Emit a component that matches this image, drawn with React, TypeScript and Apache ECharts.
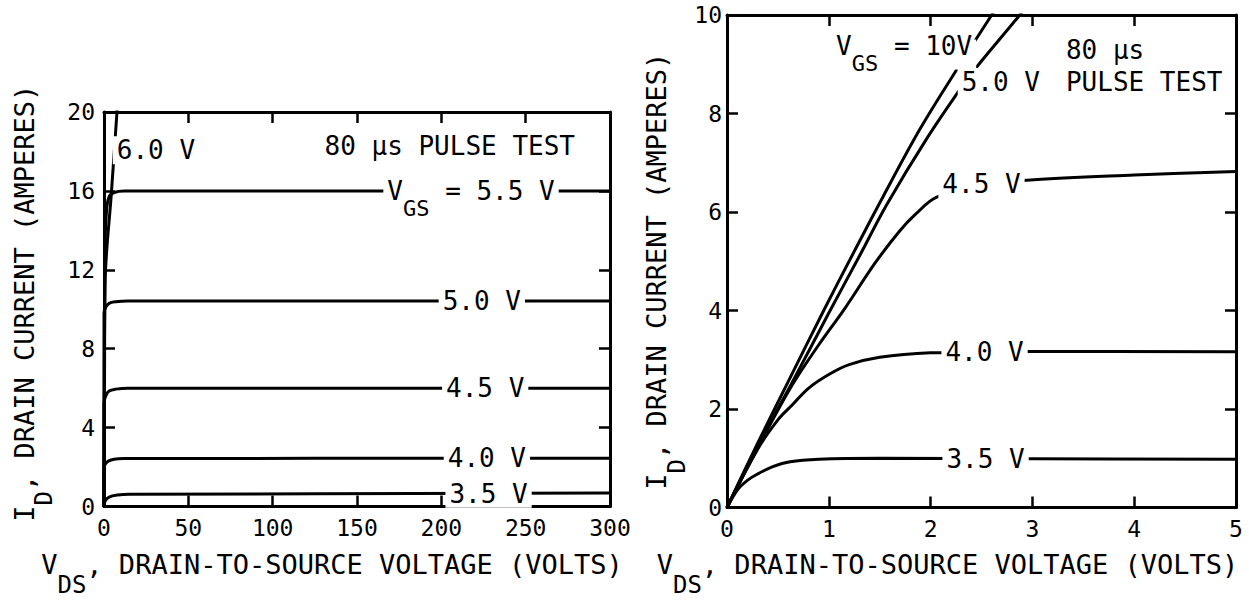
import React, { useEffect, useRef } from "react";
import * as echarts from "echarts";

const FONT = "'DejaVu Sans Mono', 'Liberation Mono', monospace";

// ---------- Left chart: 0–300 V ----------
const leftXMax = 300;
const leftXStep = 50;
const leftYMax = 20;
const leftYStep = 4;

const leftVgs35 = [[0, 0], [0.8, 0.3], [3, 0.48], [8, 0.58], [15, 0.62], [300, 0.68]];
const leftVgs40 = [[0, 0], [0, 1.95], [0.8, 2.15], [2.5, 2.3], [6, 2.4], [12, 2.43], [300, 2.45]];
const leftVgs45 = [[0, 0], [0, 5.25], [1, 5.6], [3, 5.85], [7, 5.95], [14, 6.0], [300, 6.0]];
const leftVgs50 = [[0, 0], [0, 9.8], [1, 10.1], [3, 10.3], [7, 10.38], [14, 10.42], [300, 10.42]];
const leftVgs55 = [[0, 0], [0.6, 13], [1.5, 15.0], [3, 15.7], [6, 15.92], [12, 16.0], [300, 16.0]];
const leftVgs60 = [[0, 0], [0.3, 6], [0.6, 11.2], [4.47, 16], [7.7, 20], [8.1, 20.5]];

const leftNoteText = ["6.0 V", "80 μs PULSE TEST", "{m|V}{s|GS}{m| = 5.5 V}", "5.0 V", "4.5 V", "4.0 V", "3.5 V"];
const leftNoteAt = [[30.8, 18.06], [205, 18.26], [217.6, 16.0], [224, 10.42], [226, 6.0], [227, 2.44], [228, 0.65]];

// ---------- Right chart: 0–5 V ----------
const rightXMax = 5;
const rightXStep = 1;
const rightYMax = 10;
const rightYStep = 2;

const rightVgs35 = [[0, 0], [0.1, 0.35], [0.2, 0.55], [0.3, 0.68], [0.45, 0.83], [0.62, 0.93], [0.9, 0.98], [1.5, 1.0], [3, 0.99], [5, 0.98]];
const rightVgs40 = [[0, 0], [0.3, 1.18], [0.5, 1.78], [0.64, 2.08], [0.8, 2.42], [1.0, 2.7], [1.2, 2.9], [1.5, 3.05], [2.0, 3.14], [3, 3.17], [5, 3.16]];
const rightVgs45 = [[0, 0], [0.3, 1.2], [0.63, 2.45], [0.9, 3.3], [1.16, 4.05], [1.45, 4.95], [1.69, 5.6], [1.85, 5.95], [2.06, 6.3], [2.5, 6.52], [2.98, 6.65], [4, 6.75], [5, 6.82]];
const rightVgs50 = [[0, 0], [0.3, 1.25], [0.63, 2.5], [1.0, 3.95], [1.3, 5.1], [1.57, 6.15], [1.95, 7.45], [2.34, 8.64], [2.49, 9.04], [2.86, 9.96], [2.95, 10.2]];
const rightVgs100 = [[0, 0], [0.3, 1.3], [0.6, 2.55], [0.95, 4.0], [1.25, 5.2], [1.53, 6.3], [1.9, 7.7], [2.29, 9.0], [2.6, 10], [2.7, 10.3]];

const rightNoteText = ["{m|V}{s|GS}{m| = 10V}", "5.0 V", "80 μs", "PULSE TEST", "4.5 V", "4.0 V", "3.5 V"];
const rightNoteAt = [[1.74, 9.38], [2.69, 8.64], [3.29, 9.28], [3.29, 8.64], [2.5, 6.56], [2.53, 3.16], [2.54, 0.98]];
const rightNoteAlign = ["center", "center", "left", "left", "center", "center", "center"];

const xTitle = "{m|V}{s|DS}{m|, DRAIN-TO-SOURCE VOLTAGE (VOLTS)}";
const yTitle = "{m|I}{s|D}{m|, DRAIN CURRENT (AMPERES)}";

const Q = 18;
const rich = {
  m: { fontFamily: FONT, fontSize: 26, lineHeight: 30, color: "#000", padding: [0, 0, Q, 0] },
  s: { fontFamily: FONT, fontSize: 22, lineHeight: 24, color: "#000", padding: [Q, 0, 0, 0] },
};
const richTitle = {
  m: { fontFamily: FONT, fontSize: 27, lineHeight: 30, color: "#000", padding: [0, 0, 20, 0] },
  s: { fontFamily: FONT, fontSize: 24, lineHeight: 26, color: "#000", padding: [20, 0, 0, 0] },
};

const axisLine = { show: true, onZero: false, lineStyle: { color: "#000", width: 3 } };
const tickIn = { show: true, inside: true, length: 11, lineStyle: { color: "#000", width: 2.5 } };
const tickLabel = { fontFamily: FONT, fontSize: 23, color: "#000" };

function makeX(grid: number, max: number, step: number, bottom: boolean, extra: any = {}) {
  return {
    type: "value", gridIndex: grid, min: 0, max, interval: step,
    position: bottom ? "bottom" : "top",
    axisLine, axisTick: tickIn, splitLine: { show: false },
    axisLabel: bottom ? { ...tickLabel, margin: 10 } : { show: false },
    ...extra,
  };
}
function makeY(grid: number, max: number, step: number, left: boolean, margin: number, extra: any = {}) {
  return {
    type: "value", gridIndex: grid, min: 0, max, interval: step,
    position: left ? "left" : "right",
    axisLine, axisTick: tickIn, splitLine: { show: false },
    axisLabel: left ? { ...tickLabel, margin } : { show: false },
    ...extra,
  };
}

function curve(data: number[][], xi: number, yi: number) {
  return {
    type: "line", xAxisIndex: xi, yAxisIndex: yi, data, showSymbol: false, symbol: "none",
    smooth: 0.35, silent: true, z: 3,
    lineStyle: { color: "#000", width: 3 },
    emphasis: { disabled: true },
  };
}

function notes(texts: string[], at: number[][], aligns: string[] | null, xi: number, yi: number) {
  return {
    type: "scatter", xAxisIndex: xi, yAxisIndex: yi, silent: true, z: 10, zlevel: 0,
    symbol: "circle", symbolSize: 0, itemStyle: { color: "#fff", opacity: 1 },
    emphasis: { disabled: true },
    data: texts.map((t, i) => {
      const hasSub = t.indexOf("{") === 0;
      const align = aligns ? aligns[i] : "center";
      return {
        value: at[i],
        label: {
          show: true,
          position: [0, 0],
          align,
          verticalAlign: "middle",
          offset: hasSub ? [0, Q / 2] : [0, 0],
          formatter: hasSub ? t : `{m0|${t}}`,
          backgroundColor: "#ffffff",
          opacity: 1,
          padding: [0, 4],
          rich: { ...rich, m0: { fontFamily: FONT, fontSize: 26, lineHeight: 28, color: "#000" } },
        },
      };
    }),
  };
}

const option: any = {
  animation: false,
  backgroundColor: "#fff",
  grid: [
    { left: 104, right: 1249 - 610, top: 112, bottom: 603 - 515 },
    { left: 727, right: 1249 - 1236, top: 15, bottom: 603 - 515 },
  ],
  xAxis: [
    makeX(0, leftXMax, leftXStep, true, {
      name: xTitle, nameLocation: "middle", nameGap: 53,
      nameTextStyle: { rich: richTitle, padding: [0, 50, 0, 0] },
    }),
    makeX(0, leftXMax, leftXStep, false),
    makeX(1, rightXMax, rightXStep, true, {
      name: xTitle, nameLocation: "middle", nameGap: 52,
      nameTextStyle: { rich: richTitle, padding: [0, 68, 0, 0] },
    }),
    makeX(1, rightXMax, rightXStep, false),
  ],
  yAxis: [
    makeY(0, leftYMax, leftYStep, true, 9, {
      name: yTitle, nameLocation: "middle", nameRotate: 90, nameGap: 55,
      nameTextStyle: { rich: richTitle, padding: [0, 0, 0, 12] },
    }),
    makeY(0, leftYMax, leftYStep, false, 0),
    makeY(1, rightYMax, rightYStep, true, 5, {
      name: yTitle, nameLocation: "middle", nameRotate: 90, nameGap: 19,
      nameTextStyle: { rich: richTitle, padding: [0, 20, 0, 0] },
    }),
    makeY(1, rightYMax, rightYStep, false, 0),
  ],
  series: [
    curve(leftVgs35, 0, 0),
    curve(leftVgs40, 0, 0),
    curve(leftVgs45, 0, 0),
    curve(leftVgs50, 0, 0),
    curve(leftVgs55, 0, 0),
    curve(leftVgs60, 0, 0),
    notes(leftNoteText, leftNoteAt, null, 0, 0),
    curve(rightVgs35, 2, 2),
    curve(rightVgs40, 2, 2),
    curve(rightVgs45, 2, 2),
    curve(rightVgs50, 2, 2),
    curve(rightVgs100, 2, 2),
    notes(rightNoteText, rightNoteAt, rightNoteAlign, 2, 2),
  ],
};

export default function App() {
  const ref = useRef<HTMLDivElement>(null);
  useEffect(() => {
    const chart = echarts.init(ref.current!, null, { renderer: "svg" });
    chart.setOption(option);
    return () => chart.dispose();
  }, []);
  return (
    <div
      ref={ref}
      style={{ position: "fixed", left: 0, top: 0, width: 1249, height: 603, background: "#fff" }}
    />
  );
}
